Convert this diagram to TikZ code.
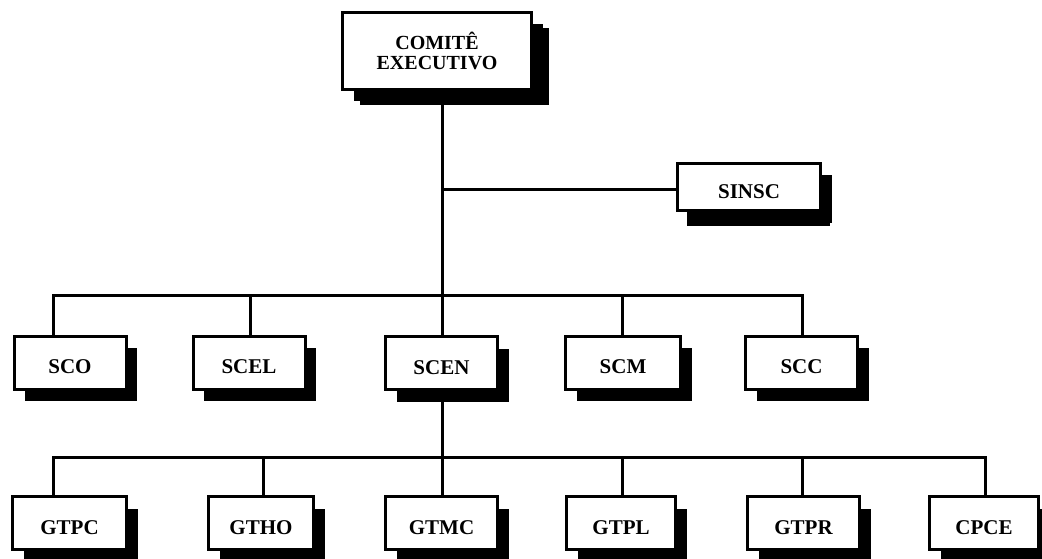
\documentclass[tikz,border=0pt]{standalone}
\usepackage{fontspec}
\setmainfont{Liberation Serif}
\usetikzlibrary{shadows}
\begin{document}
\begin{tikzpicture}[x=1pt,y=-1pt,
  orgbox/.style={draw=black,line width=3pt,fill=white,rectangle,inner sep=0pt,
    minimum width=112pt,minimum height=53pt,
    font=\fontsize{21}{20}\selectfont\bfseries,
    text height=22pt,text depth=0pt,
    drop shadow={shadow xshift=11pt,shadow yshift=-12pt,fill=black,opacity=1}},
  conn/.style={line width=3pt,line cap=rect}]
\useasboundingbox (0,0) rectangle (1042,559);
% top
\node[orgbox,minimum width=189pt,minimum height=77pt,text height=,text depth=,
  drop shadow={shadow xshift=17pt,shadow yshift=-16pt,fill=black,opacity=1}]
  (ce) at (437,51) {\raisebox{-6.5pt}{\parbox{180pt}{\centering\fontsize{20}{20.5}\selectfont\bfseries COMITÊ\\EXECUTIVO}}};
\node[orgbox,minimum width=143pt,minimum height=47pt,
  drop shadow={shadow xshift=9pt,shadow yshift=-15pt,fill=black,opacity=1}]
  (sinsc) at (749,187) {SINSC};
% level 2
\node[orgbox] (sco) at (70,362.5) {SCO};
\node[orgbox] (scel) at (249,362.5) {SCEL};
\node[orgbox] (scen) at (441.5,363) {SCEN};
\node[orgbox,minimum width=115pt] (scm) at (623,362.5) {SCM};
\node[orgbox] (scc) at (801.5,362.5) {SCC};
% level 3
\node[orgbox,minimum width=114pt] (gtpc) at (69.5,523) {GTPC};
\node[orgbox,minimum width=105pt] (gtho) at (261,523) {GTHO};
\node[orgbox] (gtmc) at (441.5,523) {GTMC};
\node[orgbox,minimum width=109pt] (gtpl) at (621,523) {GTPL};
\node[orgbox] (gtpr) at (803.5,523) {GTPR};
\node[orgbox,minimum width=109pt] (cpce) at (984,523) {CPCE};
% coordinates
\coordinate (tr) at (442,295);
\coordinate (sj) at (442,190);
\coordinate (b2l) at (53,295);
\coordinate (b2a) at (250,295);
\coordinate (b2c) at (622,295);
\coordinate (b2r) at (802,295);
\coordinate (b3m) at (442,457);
\coordinate (b3l) at (53,457);
\coordinate (b3a) at (263,457);
\coordinate (b3c) at (622,457);
\coordinate (b3d) at (802,457);
\coordinate (b3r) at (985,457);
\draw[conn] (ce.south -| tr) -- (tr);
\draw[conn] (sj) -- (sinsc.west |- sj);
\draw[conn] (b2l) -- (b2r);
\draw[conn] (b2l) -- (b2l |- sco.north);
\draw[conn] (b2a) -- (b2a |- scel.north);
\draw[conn] (tr) -- (tr |- scen.north);
\draw[conn] (b2c) -- (b2c |- scm.north);
\draw[conn] (b2r) -- (b2r |- scc.north);
\draw[conn] (scen.south -| b3m) -- (b3m);
\draw[conn] (b3l) -- (b3r);
\draw[conn] (b3l) -- (b3l |- gtpc.north);
\draw[conn] (b3a) -- (b3a |- gtho.north);
\draw[conn] (b3m) -- (b3m |- gtmc.north);
\draw[conn] (b3c) -- (b3c |- gtpl.north);
\draw[conn] (b3d) -- (b3d |- gtpr.north);
\draw[conn] (b3r) -- (b3r |- cpce.north);
\end{tikzpicture}
\end{document}
